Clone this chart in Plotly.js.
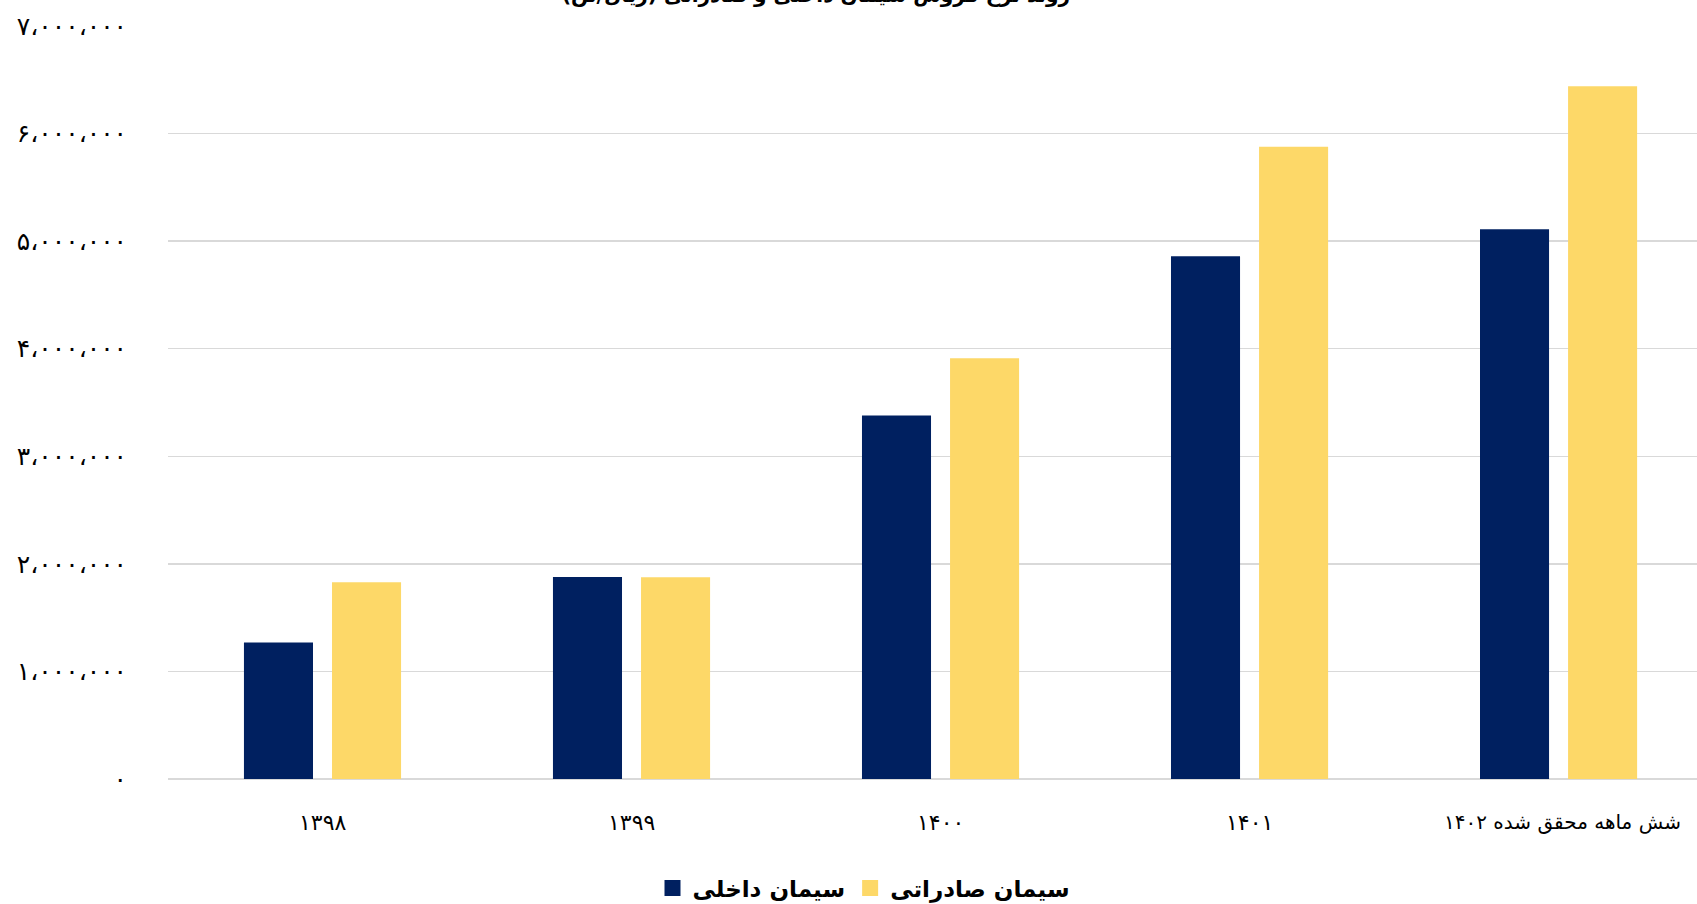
<!DOCTYPE html>
<html>
<head>
<meta charset="utf-8">
<script src="https://cdn.plot.ly/plotly-3.0.1.min.js"></script>
<style>
html,body{margin:0;padding:0;background:#fff;overflow:hidden;}
#chart{width:1697px;height:904px;}
</style>
</head>
<body>
<div id="chart"></div>
<script>
const categories = ["۱۳۹۸", "۱۳۹۹", "۱۴۰۰", "۱۴۰۱", "شش ماهه محقق شده ۱۴۰۲"];
const seriesNames = ["سیمان داخلی", "سیمان صادراتی"];
const domestic = [1270000, 1878000, 3380000, 4860000, 5110000];
const exportVals = [1829000, 1875000, 3912000, 5878000, 6440000];
const yTickVals = [0, 1000000, 2000000, 3000000, 4000000, 5000000, 6000000, 7000000];
const titleText = "روند نرخ فروش سیمان داخلی و صادراتی (ریال/تن)";
const colors = ["#002060", "#FDD868"];

function toPersian(n) {
  const d = "۰۱۲۳۴۵۶۷۸۹";
  const s = String(n).replace(/\B(?=(\d{3})+(?!\d))/g, "،");
  return s.replace(/\d/g, c => d[+c]);
}

const xIdx = categories.map((_, i) => i);
const fontFam = "DejaVu Sans, sans-serif";
const plotL = 168, plotW = 1697 - 168;

const traces = [
  {type: "bar", name: seriesNames[0], x: xIdx, y: domestic, marker: {color: colors[0]}, hoverinfo: "none", showlegend: false},
  {type: "bar", name: seriesNames[1], x: xIdx, y: exportVals, marker: {color: colors[1]}, hoverinfo: "none", showlegend: false},
  {type: "scatter", mode: "markers", name: seriesNames[0], x: [null], y: [null],
   marker: {symbol: "square", size: 18, color: colors[0]}, showlegend: true},
  {type: "scatter", mode: "markers", name: seriesNames[1], x: [null], y: [null],
   marker: {symbol: "square", size: 18, color: colors[1]}, showlegend: true}
];

const last = categories.length - 1;
const annotations = categories.map((c, i) => ({
  x: i, xref: "x", y: 0, yref: "paper", yshift: -43, yanchor: "middle",
  xanchor: i === last ? "right" : "center", xshift: i === last ? 124 : 0,
  text: c, showarrow: false, font: {family: fontFam, size: i === last ? 20 : 22, color: "#000"}
}));

const layout = {
  width: 1697, height: 904,
  margin: {l: plotL, r: 0, t: 26, b: 125, pad: 0, autoexpand: false},
  paper_bgcolor: "#fff", plot_bgcolor: "#fff",
  barmode: "group", bargap: 0.43, bargroupgap: 0.216,
  title: {text: "<b>" + titleText + "</b>", x: (816 - plotL) / plotW, xanchor: "center", xref: "paper",
          yref: "container", y: 1 - 2/904, yanchor: "bottom",
          font: {family: fontFam, size: 20, color: "#000"}},
  xaxis: {range: [-0.5, 4.448], showticklabels: false, showgrid: false, zeroline: false,
          showline: false, ticks: "", fixedrange: true},
  yaxis: {range: [0, 7000000], tickvals: yTickVals, ticktext: yTickVals.map(toPersian),
          showgrid: true, gridcolor: "#D9D9D9", gridwidth: 1.5,
          zeroline: true, zerolinecolor: "#D9D9D9", zerolinewidth: 2,
          showline: false, ticks: "", ticklabelstandoff: 40,
          tickfont: {family: fontFam, size: 25, color: "#000"}, fixedrange: true},
  showlegend: true,
  legend: {orientation: "h", x: (864 - plotL) / plotW, xanchor: "center",
           yref: "container", y: (904 - 888) / 904, yanchor: "middle",
           font: {family: fontFam, size: 23, color: "#000", weight: "bold"}, traceorder: "normal",
           itemwidth: 30},
  annotations: annotations
};

Plotly.newPlot("chart", traces, layout, {displayModeBar: false, staticPlot: true});
</script>
</body>
</html>
